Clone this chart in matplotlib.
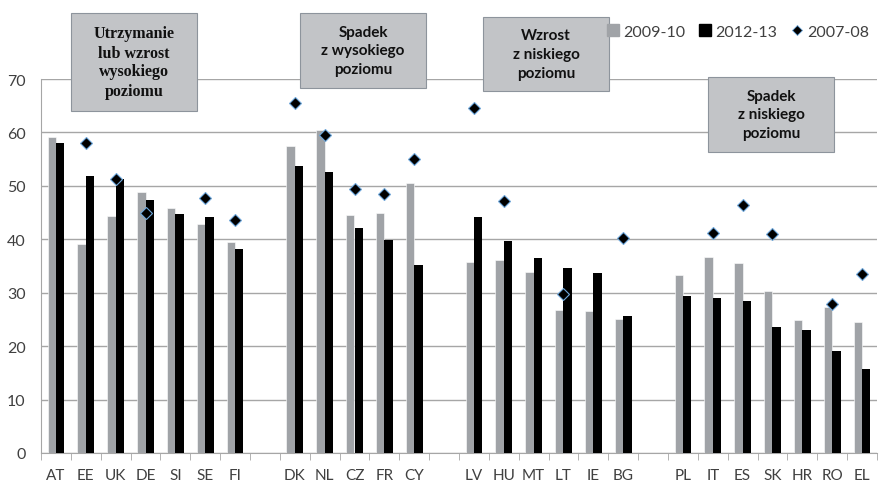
import numpy as np
import matplotlib
matplotlib.use("Agg")
import matplotlib.pyplot as plt
from matplotlib.patches import Rectangle
from matplotlib.lines import Line2D

GRAY = "#a0a3a7"
BLACK = "#000000"
EDGE_BLUE = "#6fa8dc"
GRID = "#a6a6a6"
TXT = "#404040"
BOX_FILL = "#c2c4c7"
BOX_EDGE = "#8d949c"

# empty strings are the gaps between groups
categories = ["AT", "EE", "UK", "DE", "SI", "SE", "FI", "",
              "DK", "NL", "CZ", "FR", "CY", "",
              "LV", "HU", "MT", "LT", "IE", "BG", "",
              "PL", "IT", "ES", "SK", "HR", "RO", "EL"]
nan = np.nan
v_2009 = [59.1, 39.1, 44.3, 48.8, 45.8, 42.9, 39.5, nan,
          57.4, 60.5, 44.5, 45.0, 50.5, nan,
          35.7, 36.1, 33.9, 26.8, 26.6, 25.1, nan,
          33.4, 36.7, 35.5, 30.4, 24.8, 27.3, 24.6]
v_2012 = [58.1, 51.9, 51.3, 47.4, 44.7, 44.1, 38.1, nan,
          53.7, 52.6, 42.2, 39.9, 35.1, nan,
          44.2, 39.7, 36.5, 34.7, 33.6, 25.6, nan,
          29.3, 29.1, 28.4, 23.5, 23.0, 19.0, 15.7]
v_2007 = [nan, 58.1, 51.2, 45.0, nan, 47.8, 43.7, nan,
          65.6, 59.5, 49.4, 48.4, 55.0, nan,
          64.6, 47.2, nan, 29.7, nan, 40.2, nan,
          nan, 41.2, 46.5, 41.0, nan, 27.8, 33.5]

boxes = [
    ("Utrzymanie\nlub wzrost\nwysokiego\npoziomu", (71, 14, 197, 112), "serif"),
    ("Spadek\nz wysokiego\npoziomu", (300, 14, 426, 89), "sans"),
    ("Wzrost\nz niskiego\npoziomu", (483, 18, 609, 92), "sans"),
    ("Spadek\nz niskiego\npoziomu", (708, 78, 834, 153), "sans"),
]

W, H = 882, 485
fig = plt.figure(figsize=(W / 100, H / 100), dpi=100)
ax = fig.add_axes([41 / W, (H - 454) / H, (877 - 41) / W, (454 - 80) / H])

x = np.arange(len(categories))
bw = 0.28
ax.bar(x - bw / 2, v_2009, width=bw, color=GRAY, edgecolor="white", linewidth=0.4, zorder=3)
ax.bar(x + bw / 2, v_2012, width=bw, color=BLACK, zorder=3)
ax.plot(x, v_2007, linestyle="none", marker="D", markersize=6.5, color=BLACK,
        markeredgecolor=EDGE_BLUE, markeredgewidth=0.8, zorder=4)

ax.set_xlim(-0.5, len(categories) - 0.5)
ax.set_ylim(0, 70)
ax.set_yticks(range(0, 71, 10))
ax.yaxis.grid(True, color=GRID, linewidth=1.0, zorder=0)
ax.set_axisbelow(True)
for s in ["top", "right"]:
    ax.spines[s].set_visible(False)
ax.spines["left"].set_color(GRID)
ax.spines["bottom"].set_color(GRID)
ax.tick_params(axis="y", length=0, labelsize=11.5, labelcolor=TXT, pad=11)
ax.set_xticks(x)
ax.set_xticklabels(categories)
ax.tick_params(axis="x", length=0, labelsize=11, labelcolor=TXT, pad=11)
ax.set_xticks(np.arange(-0.5, len(categories), 1.0), minor=True)
ax.tick_params(axis="x", which="minor", length=5, color=GRID, direction="out")
for lab in ax.get_xticklabels() + ax.get_yticklabels():
    lab.set_family("Lato")

for text, (x0, y0, x1, y1), kind in boxes:
    rect = Rectangle((x0 / W, (H - y1) / H), (x1 - x0) / W, (y1 - y0) / H,
                     transform=fig.transFigure, facecolor=BOX_FILL,
                     edgecolor=BOX_EDGE, linewidth=0.8, zorder=5)
    fig.add_artist(rect)
    cx, cy = (x0 + x1) / 2 / W, (H - (y0 + y1) / 2) / H
    if kind == "serif":
        fig.text(cx, cy, text, ha="center", va="center", family="Liberation Serif",
                 fontsize=11.5, fontweight="bold", linespacing=1.25, color="#111111", zorder=6)
    else:
        fig.text(cx, cy, text, ha="center", va="center", family="Lato",
                 fontsize=11, fontweight="bold", linespacing=1.45, color="#111111", zorder=6)

handles = [
    Line2D([], [], linestyle="none", marker="s", markersize=8, color=GRAY),
    Line2D([], [], linestyle="none", marker="s", markersize=8, color=BLACK),
    Line2D([], [], linestyle="none", marker="D", markersize=5, color=BLACK,
           markeredgecolor=EDGE_BLUE, markeredgewidth=0.6),
]
fig.legend(handles, ["2009-10", "2012-13", "2007-08"], loc="upper right",
           bbox_to_anchor=(884 / W, (H - 11) / H), ncol=3, frameon=False,
           prop={"family": "Lato", "size": 11.5}, handlelength=0.7,
           handletextpad=0.3, columnspacing=0.9, labelcolor=TXT)

fig.savefig("out.png", dpi=100)
